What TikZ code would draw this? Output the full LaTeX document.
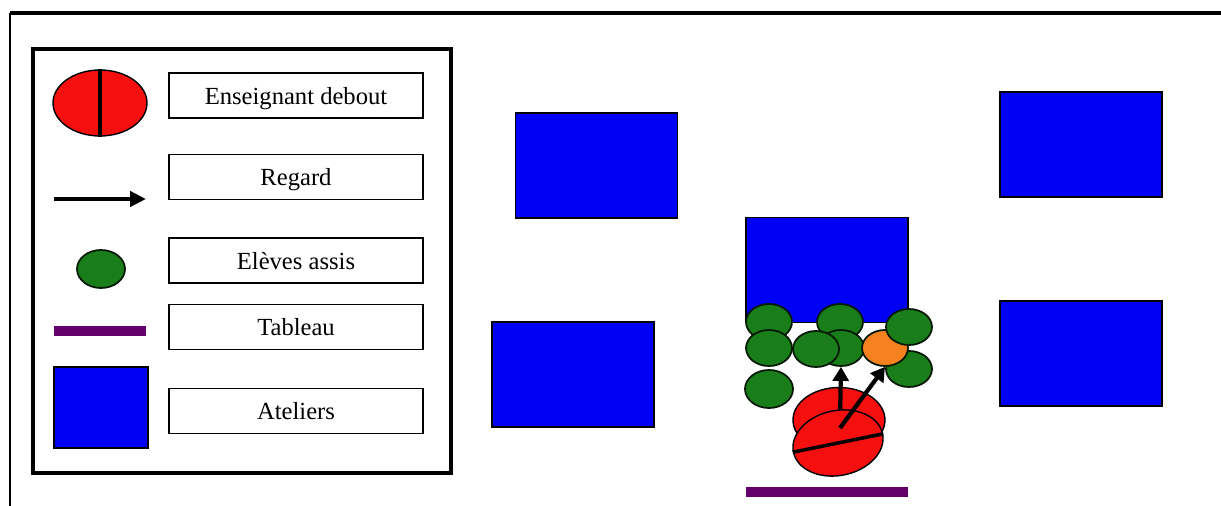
\documentclass[tikz,border=0pt]{standalone}
\usepackage{fontspec}
\setmainfont{Liberation Serif}
\usetikzlibrary{shapes.geometric,arrows.meta}
\definecolor{atblue}{RGB}{0,0,245}
\definecolor{stgreen}{RGB}{25,125,25}
\definecolor{tred}{RGB}{245,15,15}
\definecolor{storange}{RGB}{245,130,30}
\definecolor{tpurple}{RGB}{100,0,105}
\tikzset{
  atelier/.style={rectangle,draw=black,line width=0.6pt,fill=atblue,minimum width=3.24cm,minimum height=2.1cm,inner sep=0pt},
  student/.style={ellipse,draw=black!80!stgreen,line width=1pt,fill=stgreen,minimum width=0.92cm,minimum height=0.72cm,inner sep=0pt},
  orangest/.style={student,fill=storange},
  teacher/.style={ellipse,draw=black,line width=0.8pt,fill=tred,inner sep=0pt},
  labelbox/.style={rectangle,draw=black,line width=1pt,minimum width=5.08cm,minimum height=0.9cm,inner sep=0pt,text height=12.5pt,text depth=2.5pt,font=\fontsize{14}{16}\selectfont},
  gaze/.style={line width=2.4pt,-{Triangle[length=8pt,width=9pt]}},
  board/.style={rectangle,fill=tpurple,inner sep=0pt}
}
\begin{document}
\begin{tikzpicture}[x=0.02cm,y=-0.02cm]
\useasboundingbox (0,0) rectangle (1221,506);
% outer frame
\coordinate (ftl) at (10,13);
\coordinate (ftr) at (1221,13);
\coordinate (fbl) at (10,506);
\draw[line width=2.4pt] (ftr) -- (ftl);
\draw[line width=1.6pt] (ftl) -- (fbl);
% legend frame
\node[rectangle,draw=black,line width=2.2pt,minimum width=8.36cm,minimum height=8.48cm,inner sep=0pt] (legend) at (242,261) {};
% legend symbols
\node[teacher,minimum width=1.88cm,minimum height=1.32cm] (lt) at (100,103) {};
\draw[line width=2pt] (lt.north) -- (lt.south);
\coordinate (la1) at (54,199);
\coordinate (la2) at (146,199);
\draw[line width=2.2pt,-{Triangle[length=9pt,width=8.5pt]}] (la1) -- (la2);
\node[student,minimum width=0.96cm,minimum height=0.76cm] (ls) at (101,269) {};
\node[board,minimum width=1.84cm,minimum height=0.2cm] (lb) at (100,331) {};
\node[atelier,minimum width=1.88cm,minimum height=1.62cm] (la) at (101,407.5) {};
% legend labels
\node[labelbox] (t1) at (296,95.5) {Enseignant debout};
\node[labelbox] (t2) at (296,177) {Regard};
\node[labelbox] (t3) at (296,260.5) {Elèves assis};
\node[labelbox] (t4) at (296,327) {Tableau};
\node[labelbox] (t5) at (296,411) {Ateliers};
% ateliers
\node[atelier] (w1) at (596.5,165.5) {};
\node[atelier] (w2) at (1081,144.5) {};
\node[atelier] (w3) at (827,270) {};
\node[atelier] (w4) at (573,374.5) {};
\node[atelier] (w5) at (1081,353.5) {};
% tableau
\node[board,minimum width=3.24cm,minimum height=0.2cm] (tb) at (827,492) {};
% students
\node[student] (s1) at (769,322) {};
\node[student] (s2) at (840,322) {};
\node[student] (s3) at (769,348) {};
\node[student] (s4) at (841,348) {};
\node[student] (s5) at (816,349) {};
\node[student] (s6) at (909,369) {};
\node[orangest] (so) at (885,348) {};
\node[student] (s7) at (909,327) {};
\node[student,minimum width=0.96cm,minimum height=0.76cm] (s8) at (769,389) {};
% teacher
\node[teacher,minimum width=1.84cm,minimum height=1.3cm] (tback) at (839,420) {};
\coordinate (g1) at (840,420);
\coordinate (g2) at (840,428);
\draw[gaze] (g1) -- (s4.south);
\node[teacher,rotate=11.5,minimum width=1.82cm,minimum height=1.3cm] (tfront) at (838,443) {};
\draw[line width=2pt] (tfront.west) -- (tfront.east);
\draw[gaze] (g2) -- (so.south);
\end{tikzpicture}
\end{document}
